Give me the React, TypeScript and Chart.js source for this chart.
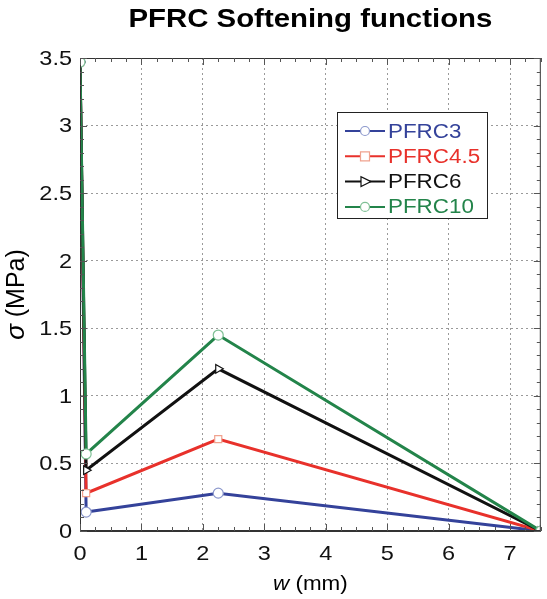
import React, { useEffect, useRef } from "react";
import { Chart, registerables } from "chart.js";

Chart.register(...registerables);

const wValues = [0, 0.1, 2.25, 7.5];
const pfrc3 = [3.47, 0.14, 0.28, 0];
const pfrc45 = [3.47, 0.28, 0.68, 0];
const pfrc6 = [3.47, 0.45, 1.2, 0];
const pfrc10 = [3.47, 0.57, 1.45, 0];
const seriesNames = ["PFRC3", "PFRC4.5", "PFRC6", "PFRC10"];
const xTicks = [0, 1, 2, 3, 4, 5, 6, 7];
const yTicks = [0, 0.5, 1, 1.5, 2, 2.5, 3, 3.5];

const lineColors = ["#34429a", "#e8312b", "#111111", "#23844a"];
const markerColors = ["#8c98cc", "#f0a28e", "#111111", "#7fc095"];
const markerStyles = ["circle", "rect", "triangle", "circle"];
const markerRot = [0, 0, 90, 0];
const drawOrder = [4, 3, 2, 1];

const FONT = "'Liberation Sans', Arial, sans-serif";
const STRETCH = 1.12;

function textS(ctx: any, text: string, x: number, y: number, align: string, sx: number) {
  ctx.save();
  ctx.translate(x, y);
  ctx.scale(sx, 1);
  ctx.textAlign = align;
  ctx.fillText(text, 0, 0);
  ctx.restore();
}

const overlay = {
  id: "overlay",
  afterDraw(chart: any) {
    const { ctx, chartArea: a, scales } = chart;
    const x = scales.x, y = scales.y;
    ctx.save();
    // plot border
    ctx.strokeStyle = "#333";
    ctx.lineWidth = 1;
    ctx.strokeRect(a.left + 0.5, a.top + 0.5, a.right - a.left - 1, a.bottom - a.top - 1);
    // minor ticks
    ctx.strokeStyle = "#555";
    ctx.beginPath();
    for (let v = 0; v <= 7.5001; v += 0.25) {
      const px = Math.round(x.getPixelForValue(v)) + 0.5;
      const len = Math.abs(v - Math.round(v)) < 1e-6 ? 7 : 4;
      ctx.moveTo(px, a.bottom); ctx.lineTo(px, a.bottom - len);
      ctx.moveTo(px, a.top); ctx.lineTo(px, a.top + len);
    }
    for (let v = 0; v <= 3.5001; v += 0.1) {
      const py = Math.round(y.getPixelForValue(v)) + 0.5;
      const len = Math.abs(v * 2 - Math.round(v * 2)) < 1e-6 ? 7 : 4;
      ctx.moveTo(a.left, py); ctx.lineTo(a.left + len, py);
      ctx.moveTo(a.right, py); ctx.lineTo(a.right - len, py);
    }
    ctx.stroke();

    ctx.fillStyle = "#111";
    ctx.textBaseline = "middle";
    // tick labels
    ctx.font = `21px ${FONT}`;
    xTicks.forEach((v) => textS(ctx, String(v), x.getPixelForValue(v), 554, "center", STRETCH));
    yTicks.forEach((v) => textS(ctx, String(v), 72, y.getPixelForValue(v) + 1, "right", STRETCH));

    // title
    const cx = (a.left + a.right) / 2;
    ctx.fillStyle = "#000";
    ctx.font = `bold 25px ${FONT}`;
    const tw = ctx.measureText("PFRC Softening functions").width;
    textS(ctx, "PFRC Softening functions", cx, 20, "center", 364 / tw);

    // x axis label: italic w + (mm)
    ctx.font = `italic 20px ${FONT}`;
    const wW = ctx.measureText("w").width * STRETCH;
    ctx.font = `20px ${FONT}`;
    const restW = ctx.measureText(" (mm)").width * STRETCH;
    let sx = cx - (wW + restW) / 2;
    ctx.font = `italic 20px ${FONT}`;
    textS(ctx, "w", sx, 584, "left", STRETCH);
    ctx.font = `20px ${FONT}`;
    textS(ctx, " (mm)", sx + wW, 584, "left", STRETCH);

    // y axis label
    const cy = (a.top + a.bottom) / 2;
    ctx.save();
    ctx.translate(17, cy);
    ctx.rotate(-Math.PI / 2);
    ctx.textAlign = "left";
    ctx.font = `italic 26px ${FONT}`;
    const sW = ctx.measureText("σ").width;
    ctx.font = `25px ${FONT}`;
    const mW = ctx.measureText(" (MPa)").width;
    sx = -(sW + mW) / 2;
    ctx.font = `italic 26px ${FONT}`;
    ctx.fillText("σ", sx, 0);
    ctx.font = `25px ${FONT}`;
    ctx.fillText(" (MPa)", sx + sW, 0);
    ctx.restore();

    // legend
    const lx = 337, ly = 112, lw = 150, lh = 106;
    ctx.fillStyle = "#fff";
    ctx.fillRect(lx, ly, lw, lh);
    ctx.strokeStyle = "#222";
    ctx.lineWidth = 1;
    ctx.strokeRect(lx + 0.5, ly + 0.5, lw, lh);
    seriesNames.forEach((name, i) => {
      const ey = 131 + i * 25.3;
      ctx.strokeStyle = lineColors[i];
      ctx.lineWidth = 2;
      ctx.beginPath();
      ctx.moveTo(345, ey);
      ctx.lineTo(385, ey);
      ctx.stroke();
      ctx.fillStyle = "#fff";
      ctx.strokeStyle = markerColors[i];
      ctx.lineWidth = 1.2;
      const mx = 365;
      ctx.beginPath();
      if (markerStyles[i] === "circle") {
        ctx.arc(mx, ey, 4.5, 0, Math.PI * 2);
      } else if (markerStyles[i] === "rect") {
        ctx.rect(mx - 4.5, ey - 4.5, 9, 9);
      } else {
        ctx.moveTo(mx + 6, ey);
        ctx.lineTo(mx - 4, ey - 5);
        ctx.lineTo(mx - 4, ey + 5);
        ctx.closePath();
      }
      ctx.fill();
      ctx.stroke();
      ctx.fillStyle = lineColors[i];
      ctx.font = `20px ${FONT}`;
      textS(ctx, name, 388, ey + 1, "left", STRETCH);
    });
    ctx.restore();
  },
};

export default function App() {
  const ref = useRef<HTMLCanvasElement>(null);
  useEffect(() => {
    const allSeries = [pfrc3, pfrc45, pfrc6, pfrc10];
    const chart = new Chart(ref.current!, {
      type: "line",
      data: {
        datasets: allSeries.map((vals, i) => ({
          label: seriesNames[i],
          data: wValues.map((w, j) => ({ x: w, y: vals[j] })),
          borderColor: lineColors[i],
          borderWidth: 3,
          pointStyle: markerStyles[i] as any,
          rotation: markerRot[i],
          pointRadius: 5,
          pointBackgroundColor: "#fff",
          pointBorderColor: markerColors[i],
          pointBorderWidth: 1.2,
          tension: 0,
          order: drawOrder[i],
        })),
      },
      options: {
        animation: false,
        responsive: false,
        maintainAspectRatio: false,
        layout: { padding: { left: 0, right: 5, top: 58, bottom: 0 } },
        plugins: { legend: { display: false }, tooltip: { enabled: false }, title: { display: false } },
        scales: {
          x: {
            type: "linear",
            min: 0,
            max: 7.5,
            afterBuildTicks: (s: any) => { s.ticks = xTicks.map((v) => ({ value: v })); },
            afterFit: (s: any) => { s.height = 68; },
            grid: { color: "#9a9a9a", drawTicks: false, lineWidth: 1 },
            border: { display: true, color: "#333", dash: [2, 3] },
            ticks: { display: false },
          },
          y: {
            type: "linear",
            min: 0,
            max: 3.5,
            afterBuildTicks: (s: any) => { s.ticks = yTicks.map((v) => ({ value: v })); },
            afterFit: (s: any) => { s.width = 80; },
            grid: { color: "#9a9a9a", drawTicks: false, lineWidth: 1 },
            border: { display: true, color: "#333", dash: [2, 3] },
            ticks: { display: false },
          },
        },
      },
      plugins: [overlay],
    });
    return () => chart.destroy();
  }, []);
  return (
    <div style={{ position: "fixed", left: 0, top: 0, width: 547, height: 599, background: "#fff" }}>
      <canvas ref={ref} width={547} height={599} style={{ width: 547, height: 599 }} />
    </div>
  );
}
